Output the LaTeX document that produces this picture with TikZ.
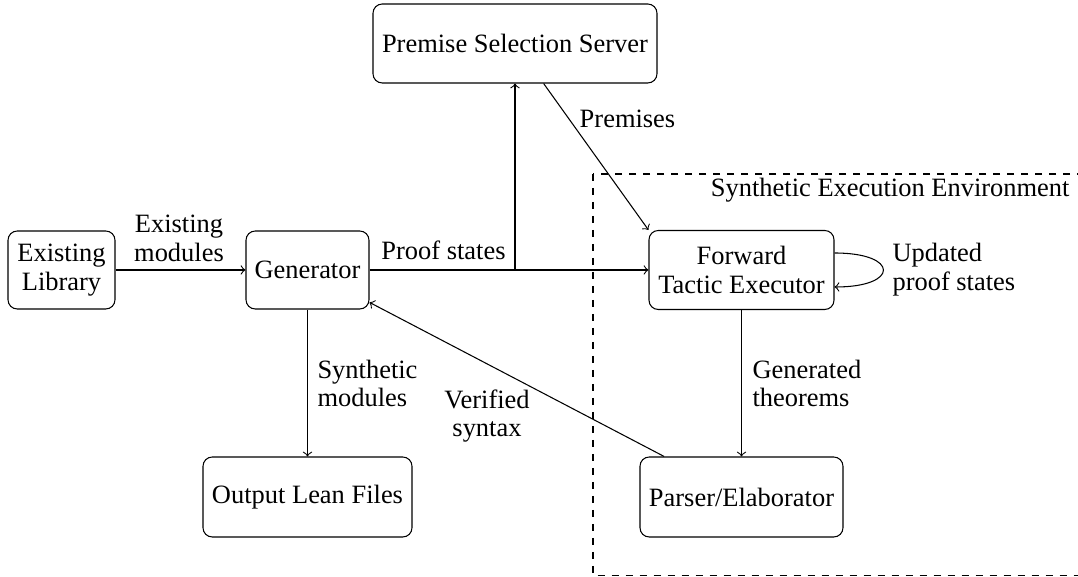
\documentclass[tikz,border=0pt]{standalone}
\usepackage{fontspec}
\setmainfont{Liberation Serif}
\usetikzlibrary{calc}
\newdimen\px \px=0.378pt
\begin{document}
\begin{tikzpicture}[x=0.378pt,y=-0.378pt,
  font=\rmfamily\fontsize{10}{10.9}\selectfont,
  box/.style={draw, rounded corners=3.5pt, align=center, inner sep=0pt},
  lbl/.style={inner sep=0pt},
  arr/.style={->}]
\useasboundingbox (0,0) rectangle (1078,577);
\clip (0,0) rectangle (1078,577);
% environment frame
\draw[dashed, dash pattern=on 7\px off 7\px] (593,174) rectangle (1095,575.5);
\node[lbl, anchor=base east] (envlbl) at (1070,197) {Synthetic Execution Environment};
% boxes
\node[box, minimum width=107*\px, minimum height=78*\px] (lib) at (61.5,270) {Existing\\Library};
\node[box, minimum width=123*\px, minimum height=78*\px] (gen) at (307.5,270) {Generator};
\node[box, minimum width=284*\px, minimum height=79*\px] (pss) at (515,43.5) {Premise Selection Server};
\node[box, minimum width=185*\px, minimum height=79*\px] (fte) at (741.5,270) {Forward\\Tactic Executor};
\node[box, minimum width=203*\px, minimum height=80*\px] (par) at (741.5,497) {Parser/Elaborator};
\node[box, minimum width=209*\px, minimum height=80*\px] (out) at (307.5,497) {Output Lean Files};
% connectors
\draw[arr] (lib) -- (gen);
\draw[arr] (gen) -- (fte);
\coordinate (j) at (pss.south |- gen.east);
\draw[arr] (j) -- (pss.south);
\draw[arr] (pss) -- (fte.north west);
\draw[arr] ($(fte.east)+(0,-17)$) .. controls +(65,0) and +(65,0) .. ($(fte.east)+(0,17)$);
\draw[arr] (fte) -- (par);
\draw[arr] (gen) -- (out);
\draw[arr] (par) -- (gen);
% labels
\node[lbl, align=center] (l1) at (179,238) {Existing\\modules};
\node[lbl, anchor=base] (l2) at (443.5,260) {Proof states};
\node[lbl, anchor=base] (l3) at (627.5,128) {Premises};
\node[lbl, align=left, anchor=west] (l4) at (892,269.5) {Updated\\proof states};
\node[lbl, align=left, anchor=west] (l5) at (752,383.5) {Generated\\theorems};
\node[lbl, align=left, anchor=west] (l6) at (317,383.5) {Synthetic\\modules};
\node[lbl, align=center] (l7) at (487,416) {Verified\\syntax};
\end{tikzpicture}
\end{document}
